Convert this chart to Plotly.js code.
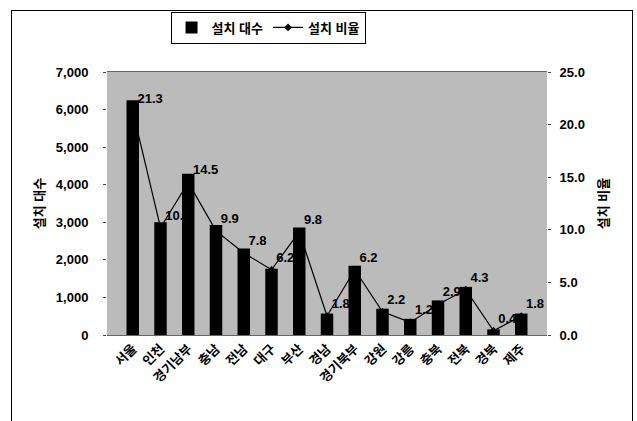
<!DOCTYPE html>
<html>
<head>
<meta charset="utf-8">
<script src="https://cdn.plot.ly/plotly-3.0.1.min.js"></script>
<style>
  html, body { margin: 0; padding: 0; background: #ffffff; overflow: hidden; }
  #wrap { position: relative; width: 637px; height: 421px; }
  #chart { width: 637px; height: 421px; }
  #frame { position: absolute; left: 11px; top: 10px; width: 620px; height: 430px; border: 1px solid #000; pointer-events: none; }
</style>
</head>
<body>
<div id="wrap">
  <div id="chart"></div>
  <div id="frame"></div>
</div>
<script>
const regions = ["서울", "인천", "경기남부", "충남", "전남", "대구", "부산", "경남", "경기북부", "강원", "강릉", "충북", "전북", "경북", "제주"];
const installCount = [6250, 3000, 4290, 2930, 2300, 1760, 2860, 570, 1840, 700, 430, 920, 1280, 150, 570];
const installRatio = [21.3, 10.2, 14.5, 9.9, 7.8, 6.2, 9.8, 1.8, 6.2, 2.2, 1.2, 2.9, 4.3, 0.4, 1.8];
const countTicks = [0, 1000, 2000, 3000, 4000, 5000, 6000, 7000];
const ratioTicks = [0, 5, 10, 15, 20, 25];

const fontFam = '"Liberation Sans", Arial, "Noto Sans CJK KR", sans-serif';
const boldFont = (size) => ({ family: fontFam, size: size, color: '#000', weight: 'bold' });

const lineTrace = {
  type: 'scatter',
  x: regions,
  y: installRatio,
  name: '설치 비율',
  yaxis: 'y',
  mode: 'lines+markers+text',
  line: { color: '#000', width: 1.2 },
  marker: { symbol: 'diamond', size: 6, color: '#000' },
  text: installRatio.map(v => v.toFixed(1)),
  textposition: 'top right',
  textfont: boldFont(13),
  legendrank: 2,
  cliponaxis: false
};

const barTrace = {
  type: 'bar',
  x: regions,
  y: installCount,
  name: '설치 대수',
  yaxis: 'y2',
  marker: { color: '#000' },
  legendrank: 1
};

const layout = {
  width: 637,
  height: 421,
  margin: { l: 107, r: 90, t: 72, b: 86 },
  paper_bgcolor: '#ffffff',
  plot_bgcolor: '#bbbbbb',
  bargap: 0.55,
  font: boldFont(13),
  showlegend: true,
  legend: {
    orientation: 'h',
    x: 0.366, xanchor: 'center',
    y: 1.23, yanchor: 'top',
    bgcolor: '#ffffff',
    bordercolor: '#000',
    borderwidth: 1,
    font: boldFont(13),
    itemwidth: 30,
    tracegroupgap: 0
  },
  xaxis: {
    type: 'category',
    tickangle: -45,
    tickfont: boldFont(13),
    showgrid: false,
    showline: true,
    linecolor: '#666',
    linewidth: 1,
    mirror: true,
    ticks: '',
    zeroline: false
  },
  yaxis: {
    side: 'right',
    range: [0, 25],
    tickvals: ratioTicks,
    tickformat: '.1f',
    tickfont: boldFont(13),
    showgrid: false,
    zeroline: false,
    ticks: 'outside',
    ticklen: 3,
    tickcolor: '#444',
    ticklabelstandoff: 6,
    title: { text: '설치 비율', font: boldFont(13), standoff: 14 }
  },
  yaxis2: {
    overlaying: 'y',
    side: 'left',
    range: [0, 7000],
    tickvals: countTicks,
    tickformat: ',d',
    tickfont: boldFont(13),
    showgrid: false,
    zeroline: false,
    ticks: 'outside',
    ticklen: 3,
    tickcolor: '#444',
    ticklabelstandoff: 12,
    title: { text: '설치 대수', font: boldFont(13), standoff: 8 }
  }
};

Plotly.newPlot('chart', [lineTrace, barTrace], layout, { displayModeBar: false, staticPlot: true });
</script>
</body>
</html>
